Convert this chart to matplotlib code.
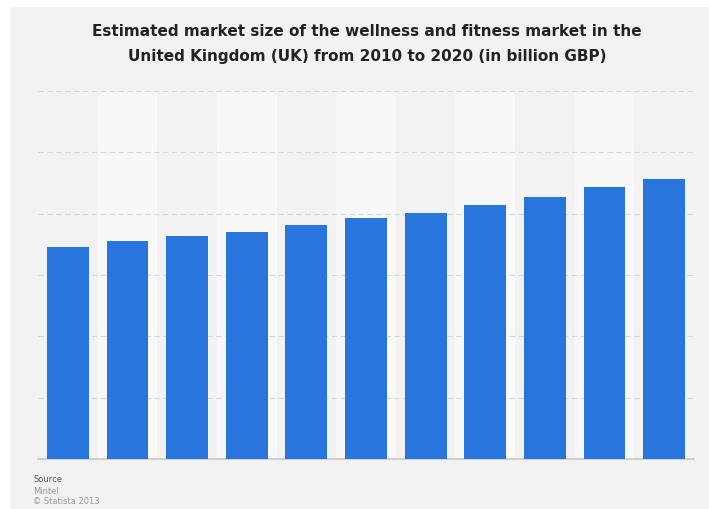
import matplotlib
matplotlib.use("Agg")
import matplotlib.pyplot as plt
from matplotlib.patches import Rectangle

years = ["2010", "2011", "2012", "2013", "2014", "2015", "2016", "2017", "2018", "2019", "2020"]
values = [17.31, 17.75, 18.21, 18.51, 19.05, 19.67, 20.06, 20.68, 21.39, 22.15, 22.80]
y_ticks = [0, 5, 10, 15, 20, 25, 30]

W, H = 709, 509
fig = plt.figure(figsize=(W / 100, H / 100), dpi=100)
fig.patch.set_facecolor("white")
fig.patches.append(Rectangle((10 / W, 0), 1 - 10 / W, 1 - 7 / H, transform=fig.transFigure,
                             facecolor="#f2f2f2", edgecolor="none", zorder=-10))

ax = fig.add_axes([38 / W, 1 - 459 / H, (694 - 38) / W, (459 - 91) / H])
ax.set_facecolor("none")
x = list(range(len(years)))
for i in x:
    if i % 2 == 1:
        ax.axvspan(i - 0.5, i + 0.5, color="#f8f8f8", zorder=0, lw=0)
ax.bar(x, values, width=0.70, color="#2876dd", zorder=3)
ax.set_xlim(-0.5, len(years) - 0.5)
ax.set_ylim(0, 30)
ax.set_yticks(y_ticks)
ax.yaxis.grid(True, color="#d4d6dc", linestyle=(0, (5, 3)), linewidth=0.8, zorder=1)
ax.set_axisbelow(True)
ax.set_xticks(x)
ax.tick_params(left=False, bottom=False, labelleft=False, labelbottom=False)
for s in ["top", "right", "left"]:
    ax.spines[s].set_visible(False)
ax.spines["bottom"].set_color("#c8c8c8")
ax.spines["bottom"].set_linewidth(1.2)

fig.text(367 / W, 1 - 32 / H, "Estimated market size of the wellness and fitness market in the",
         ha="center", va="center", fontsize=11, fontweight="bold", color="#222222")
fig.text(367 / W, 1 - 56 / H, "United Kingdom (UK) from 2010 to 2020 (in billion GBP)",
         ha="center", va="center", fontsize=11, fontweight="bold", color="#222222")

fig.text(33 / W, 1 - 480 / H, "Source", ha="left", va="center", fontsize=6, color="#555555")
fig.text(33 / W, 1 - 491 / H, "Mintel", ha="left", va="center", fontsize=6, color="#999999")
fig.text(33 / W, 1 - 502 / H, "© Statista 2013", ha="left", va="center", fontsize=6, color="#999999")

fig.savefig("out.png", dpi=100, facecolor=fig.get_facecolor())
